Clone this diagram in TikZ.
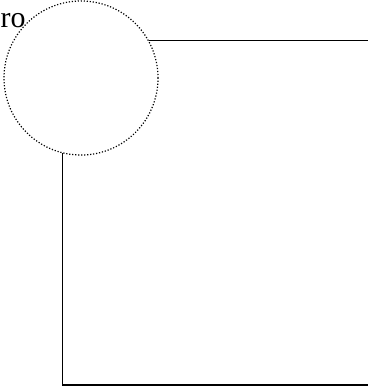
\documentclass[tikz,border=0pt]{standalone}
\usepackage{fontspec}
\setmainfont{Liberation Serif}
\usetikzlibrary{calc}

\begin{document}
\begin{tikzpicture}[x=1bp, y=-1bp, line width=1.4bp,
    ring/.style={circle, draw, line width=1.2bp, dash pattern=on 1.2bp off 1.8bp, minimum size=154bp, inner sep=0pt},
    tag/.style={inner sep=0pt, anchor=base west, font=\fontsize{30}{30}\selectfont}]
    % picture frame
    \useasboundingbox (0, 0) rectangle (368, 387);

    % dotted circle and its label
    \node[ring] (ring) at (81, 78) {};
    \node[tag] (ro) at (0, 27) {ro};

    % free ends of the lines
    \coordinate (topend) at (368, 40);
    \coordinate (corner) at (62, 385);
    \coordinate (botend) at (368, 385);

    % lines
    \draw (ring.29) -- (ring.29 -| topend);
    \draw (ring.-104) -- (ring.-104 |- corner) -- (botend);
\end{tikzpicture}
\end{document}
